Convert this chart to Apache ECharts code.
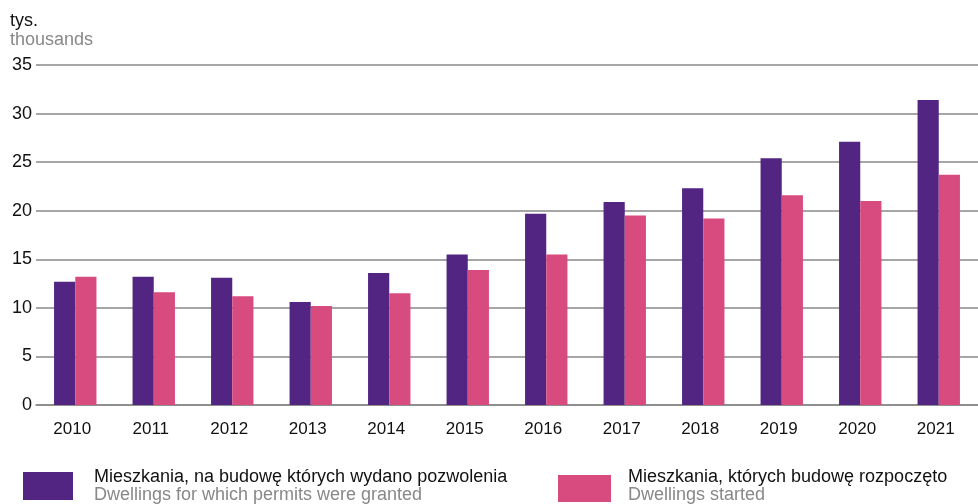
<!DOCTYPE html>
<html>
<head>
<meta charset="utf-8">
<script src="https://cdn.jsdelivr.net/npm/echarts@6/dist/echarts.min.js"></script>
<style>
  html, body { margin: 0; padding: 0; background: #fff; }
  #chart { width: 978px; height: 504px; }
</style>
</head>
<body>
<div id="chart"></div>
<script>
var years = ['2010', '2011', '2012', '2013', '2014', '2015', '2016', '2017', '2018', '2019', '2020', '2021'];
var permits = [12.7, 13.2, 13.1, 10.6, 13.6, 15.5, 19.7, 20.9, 22.3, 25.4, 27.1, 31.4];
var started = [13.2, 11.6, 11.2, 10.2, 11.5, 13.9, 15.5, 19.5, 19.2, 21.6, 21.0, 23.7];
var seriesNamesPl = ['Mieszkania, na budowę których wydano pozwolenia', 'Mieszkania, których budowę rozpoczęto'];
var seriesNamesEn = ['Dwellings for which permits were granted', 'Dwellings started'];
var yTicks = [0, 5, 10, 15, 20, 25, 30, 35];

var colors = ['#522582', '#d84b7f'];
var font = 'Liberation Sans, Arial, sans-serif';

var chart = echarts.init(document.getElementById('chart'));

function legendFormatter(name) {
    var i = seriesNamesPl.indexOf(name);
    return '{a|' + name + '}\n{b|' + seriesNamesEn[i] + '}';
}

var legendRich = {
    a: { fontSize: 18, color: '#111', fontFamily: font, lineHeight: 18 },
    b: { fontSize: 18, color: '#888', fontFamily: font, lineHeight: 18 }
};

var option = {
    animation: false,
    textStyle: { fontFamily: font },
    title: {
        text: 'tys.',
        subtext: 'thousands',
        left: 5,
        top: 7,
        itemGap: 1,
        textStyle: { fontSize: 18, fontWeight: 'normal', color: '#111', fontFamily: font },
        subtextStyle: { fontSize: 18, color: '#888', fontFamily: font }
    },
    legend: [
        {
            data: [seriesNamesPl[0]],
            left: 18,
            top: 463,
            itemWidth: 50,
            itemHeight: 28,
            icon: 'rect',
            formatter: legendFormatter,
            textStyle: { rich: legendRich, padding: [3, 0, 3, 16] }
        },
        {
            data: [seriesNamesPl[1]],
            left: 553,
            top: 463,
            itemWidth: 53,
            itemHeight: 27,
            icon: 'rect',
            formatter: legendFormatter,
            textStyle: { rich: legendRich, padding: [3, 0, 8, 12] }
        }
    ],
    grid: {
        left: 36,
        right: -3,
        top: 65,
        bottom: 99,
        containLabel: false
    },
    xAxis: {
        type: 'category',
        data: years,
        axisTick: { show: false },
        axisLine: { show: true, lineStyle: { color: '#888', width: 1.5 } },
        axisLabel: { fontSize: 17, color: '#111', margin: 16, fontFamily: font, padding: [0, 6, 0, 0] }
    },
    yAxis: {
        type: 'value',
        min: yTicks[0],
        max: yTicks[yTicks.length - 1],
        interval: 5,
        axisLine: { show: false },
        axisTick: { show: false },
        axisLabel: { fontSize: 18, color: '#111', margin: 4, fontFamily: font },
        splitLine: { lineStyle: { color: '#888', width: 1.5 } }
    },
    series: [
        {
            name: seriesNamesPl[0],
            type: 'bar',
            data: permits,
            itemStyle: { color: colors[0] },
            barGap: '0%',
            barCategoryGap: '46%'
        },
        {
            name: seriesNamesPl[1],
            type: 'bar',
            data: started,
            itemStyle: { color: colors[1] },
            barGap: '0%',
            barCategoryGap: '46%'
        }
    ]
};

chart.setOption(option);
</script>
</body>
</html>
